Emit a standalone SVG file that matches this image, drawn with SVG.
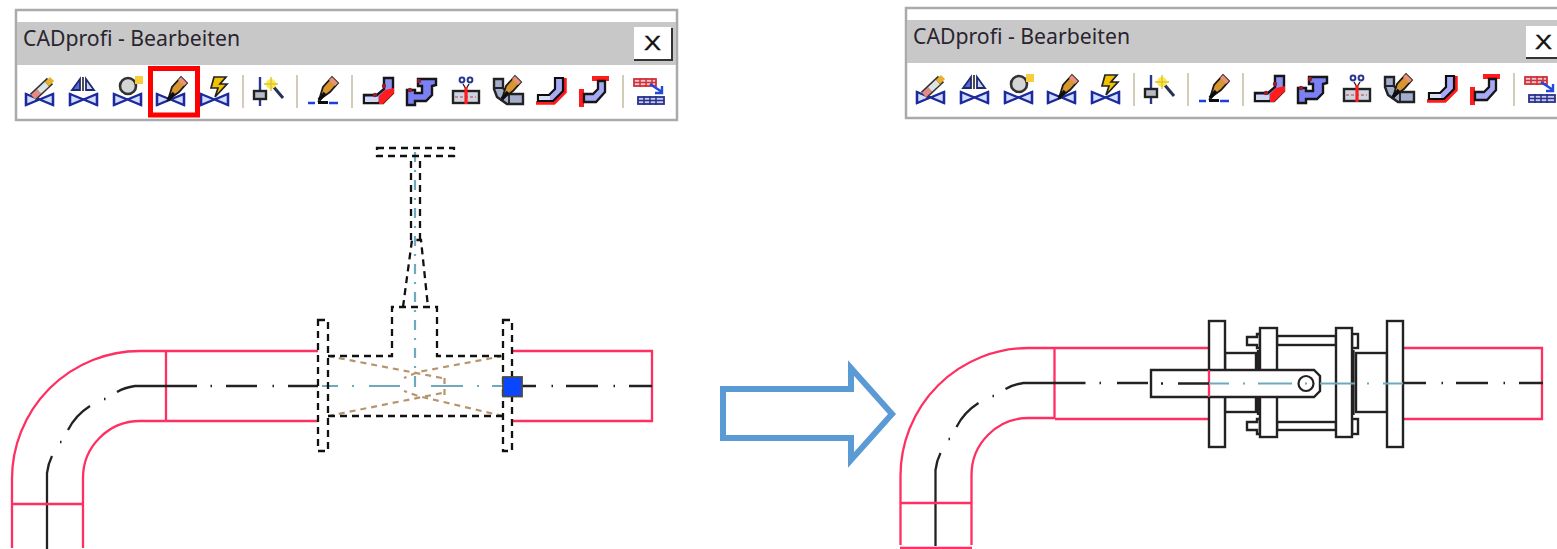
<svg xmlns="http://www.w3.org/2000/svg" width="1557" height="549" viewBox="0 0 1557 549">
<style>
.title{font-family:"Noto Sans","Liberation Sans",sans-serif;font-size:21px;fill:#2a2430}
.close{font-family:"Liberation Sans",Arial,sans-serif;font-size:21px;fill:#111;stroke:#111;stroke-width:.4}
.red{fill:none;stroke:#ff2f62;stroke-width:2.300}
.blk{fill:none;stroke:#222;stroke-width:2.300}
.part{fill:#fff;stroke:#222;stroke-width:2.400}
.dash{fill:none;stroke:#111;stroke-width:2.300;stroke-dasharray:7 5}
.teal{fill:none;stroke:#6fa9bd;stroke-width:2.200}
.brown{fill:none;stroke:#b8946c;stroke-width:2.200;stroke-dasharray:6 5}
.sep{stroke:#d2ccb8;stroke-width:2}
</style>
<defs>
<filter id="soft" x="-2%" y="-5%" width="104%" height="110%"><feGaussianBlur stdDeviation="0.4"/></filter>
<g id="bow"><polygon points="1,18 14.500,23.500 28,18 28,29 14.500,23.500 1,29" fill="#d3ddff" stroke="#1c2a9c" stroke-width="2.200"/>
<path d="M1 17V30M28 17V30" stroke="#1c2a9c" stroke-width="2.400"/></g>
<g id="pen">
<polygon points="-1,22 3,9 12,-1 18,5 10,14" fill="#d9952f" stroke="#1a1a1a" stroke-width="1.800"/>
<polygon points="9,2 12,-1 18,5 15,8" fill="#e8927a"/>
<line x1="-1" y1="22" x2="5" y2="15" stroke="#111" stroke-width="3.500"/>
</g>
<g id="i1"><use href="#bow"/>
<line x1="8" y1="21" x2="25" y2="5" stroke="#333" stroke-width="9"/>
<line x1="8" y1="21" x2="14" y2="15.400" stroke="#e58a86" stroke-width="6"/>
<line x1="14" y1="15.400" x2="22" y2="8" stroke="#dfe3e3" stroke-width="6"/>
<line x1="22" y1="8" x2="27" y2="3" stroke="#e9b22e" stroke-width="6"/></g>
<g id="i2"><use href="#bow"/>
<line x1="14" y1="1" x2="14" y2="15" stroke="#222" stroke-width="1.600"/>
<polygon points="11,3 11,14 3,14" fill="#5868d8" stroke="#1c2a70" stroke-width="1.800"/>
<polygon points="17,3 17,14 25,14" fill="#c7d3f5" stroke="#1c2a70" stroke-width="1.800"/></g>
<g id="i3"><use href="#bow"/>
<circle cx="15" cy="10" r="8" fill="#d4d6d6" stroke="#333" stroke-width="2.600"/>
<rect x="22" y="0" width="8" height="8" fill="#f8cc3c"/></g>
<g id="i4"><use href="#bow"/><use href="#pen" x="13" y="2"/></g>
<g id="i5"><use href="#bow"/><polygon points="14,1 26,1 20,8 27,8 15,21 18,12 11,12" fill="#f2c200" stroke="#222" stroke-width="1.700"/></g>
<g id="i6">
<line x1="7" y1="1" x2="7" y2="30" stroke="#2a3590" stroke-width="2.400"/>
<rect x="1" y="15" width="12" height="8" fill="#b8bcc4" stroke="#222" stroke-width="2.400"/>
<line x1="19" y1="9" x2="30" y2="22" stroke="#22305a" stroke-width="3"/>
<circle cx="18" cy="8" r="5" fill="#ffe94a"/>
<path d="M18 1V15M11 8H25" stroke="#d8c43a" stroke-width="1.400"/></g>
<g id="i7"><use href="#pen" x="12" y="2"/>
<path d="M0 27H7M21 27H30" stroke="#1c3ce0" stroke-width="2.400"/>
<line x1="10" y1="26.500" x2="20" y2="26.500" stroke="#111" stroke-width="3"/></g>
<g id="i8"><polygon points="1,18 14,18 21,12 21,1 30,1 30,16 20,26 1,26" fill="#8f92f5" stroke="#161616" stroke-width="2.400"/>
<rect x="2" y="20" width="13" height="5" fill="#d0d8f0"/>
<polygon points="16,27 20,27 31,16 31,11 22,13 16,19" fill="#ff1a1a"/>
<circle cx="12" cy="18" r="2.200" fill="#90202a"/><circle cx="21" cy="9" r="2.200" fill="#90202a"/></g>
<g id="i9"><polygon points="1,13 9,13 9,16 16,16 16,9 12,9 12,2 30,2 30,8 26,9 26,18 20,24 9,24 9,28 1,28" fill="#7c80f5" stroke="#161616" stroke-width="2.400"/>
<circle cx="13" cy="4" r="2.200" fill="#90202a"/><circle cx="4" cy="13" r="2.200" fill="#90202a"/></g>
<g id="i10"><circle cx="10" cy="3" r="2.400" fill="none" stroke="#2a3590" stroke-width="2"/><circle cx="18" cy="3" r="2.400" fill="none" stroke="#2a3590" stroke-width="2"/>
<path d="M11 7L14 12L17 7" fill="none" stroke="#222" stroke-width="1.400"/>
<rect x="1" y="14" width="26" height="12" fill="#cfd4e0" stroke="#222" stroke-width="2.400"/>
<line x1="14" y1="10" x2="14" y2="27" stroke="#ff1a1a" stroke-width="3.200"/>
<path d="M3 20H24" stroke="#b04040" stroke-width="1" stroke-dasharray="3 2"/></g>
<g id="i11"><polygon points="1,2 10,2 10,11 16,17 30,17 30,27 14,27 4,20 1,12" fill="#a2aecb" stroke="#222" stroke-width="2.400"/>
<path d="M1 11H10M16 17V27" stroke="#222" stroke-width="1.800"/>
<use href="#pen" x="10" y="0"/></g>
<g id="i12"><path d="M0 26H18L29 15V1" fill="none" stroke="#ff1a1a" stroke-width="3.500"/>
<polygon points="2,18 13,18 19,12 19,1 27,1 27,14 17,24 2,24" fill="#a7aaf5" stroke="#111" stroke-width="2.200"/>
<rect x="3" y="19" width="11" height="4" fill="#d8def4"/></g>
<g id="i13"><rect x="13" y="-1" width="17" height="5" fill="#ff1a1a"/><rect x="0" y="12" width="5" height="18" fill="#ff1a1a"/>
<polygon points="5,17 14,17 19,12 19,4 26,4 26,15 17,25 5,25" fill="#a7aaf5" stroke="#161616" stroke-width="2.300"/></g>
<g id="i14"><rect x="0" y="2" width="22" height="7" fill="#f0c8c8" stroke="#d0303a" stroke-width="1.800"/><path d="M0 5.500H22M6 1V10M12 1V10M18 1V10" stroke="#d0303a" stroke-width="1.500"/>
<rect x="4" y="20" width="26" height="7" fill="#c8ccec" stroke="#28308e" stroke-width="1.800"/><path d="M4 23.500H30M10 19V28M16 19V28M22 19V28" stroke="#28308e" stroke-width="1.500"/>
<path d="M16 7L28 15M28 9V16H21" fill="none" stroke="#2248d8" stroke-width="2.400"/></g>
<g id="iconRow" filter="url(#soft)">
<use href="#i1" x="25" y="76"/><use href="#i2" x="69" y="76"/><use href="#i3" x="113" y="76"/><use href="#i4" x="156" y="76"/><use href="#i5" x="200" y="76"/>
<line class="sep" x1="243" y1="75" x2="243" y2="108"/>
<use href="#i6" x="253" y="76"/>
<line class="sep" x1="297" y1="75" x2="297" y2="108"/>
<use href="#i7" x="308" y="76"/>
<line class="sep" x1="352" y1="75" x2="352" y2="108"/>
<use href="#i8" x="363" y="77"/><use href="#i9" x="406" y="77"/><use href="#i10" x="452" y="77"/><use href="#i11" x="493" y="77"/><use href="#i12" x="536" y="77"/><use href="#i13" x="579" y="77"/>
<line class="sep" x1="623" y1="75" x2="623" y2="108"/>
<use href="#i14" x="634" y="77"/>
</g>
<g id="elbow">
<path class="red" d="M166 351H140A128 128 0 0 0 12 479V548M166 421H140A57 57 0 0 0 83 478V548M166 350V422"/>
<path class="blk" d="M47 549V473C48 465 50 460 52 456M60 442h1.500M68 430C73 420 79 413 90 406M104 399h1.500M117 392C122 389 128 387 135 386H197"/>
</g>
</defs>

<g id="toolbar-left">
<rect x="16" y="10" width="661" height="110" fill="#fff" stroke="#aaa" stroke-width="2.500"/>
<rect x="17" y="22" width="659" height="43" fill="#c8c8c8"/>
<text class="title" x="23" y="46" textLength="217" lengthAdjust="spacingAndGlyphs">CADprofi - Bearbeiten</text>
<rect x="634" y="27" width="37" height="33" fill="#fff"/>
<path d="M634 60H672V28" fill="none" stroke="#333" stroke-width="2"/>
<text class="close" x="644" y="50" textLength="17" lengthAdjust="spacingAndGlyphs">X</text>
<use href="#iconRow"/>
<rect x="150.500" y="68.500" width="47" height="46.500" fill="none" stroke="#ff0000" stroke-width="5"/>
</g>

<g id="toolbar-right">
<rect x="906" y="8" width="661" height="110" fill="#fff" stroke="#aaa" stroke-width="2.500"/>
<rect x="907" y="20" width="659" height="43" fill="#c8c8c8"/>
<text class="title" x="913" y="44" textLength="217" lengthAdjust="spacingAndGlyphs">CADprofi - Bearbeiten</text>
<rect x="1526" y="26" width="37" height="32" fill="#fff"/>
<line x1="1526" y1="58" x2="1557" y2="58" stroke="#333" stroke-width="2"/>
<text class="close" x="1535" y="49" textLength="17" lengthAdjust="spacingAndGlyphs">X</text>
<use href="#iconRow" transform="translate(891,-2)"/>
</g>

<g id="piping-left">
<use href="#elbow"/>
<path class="red" d="M12 504H83M166 351H318M166 421H318M513 351H652V421H513"/>
<path class="blk" d="M226 386H257M288 386H318M272.500 386h1.500M210.500 386h1.500M522 386H536M551.500 386h1.500M566 386H598M613.500 386h1.500M629 386H652"/>
</g>

<g id="valve-left">
<path class="brown" d="M328 356L442 378M503 356L418 372L404 378M328 416L442 393M503 416L418 396L404 391M444.500 378V396"/>
<path class="teal" d="M322 386H338M352 386h2M369 386H400M414 386h2M431 386H463M477 386h2M492 386H503"/>
<path class="teal" stroke-dasharray="10 8 2 8" d="M415 386V150"/>
<path class="dash" d="M318 320H328V451H318ZM503 320H512V451H503ZM328 356H392V307H437V356H503M328 416H503M403 307L412 240H421L428 307M411 240V156M420 240V156M377 148H454V156H377Z"/>
<rect x="503" y="377" width="19" height="19.500" fill="#0a45ff" stroke="#4a4a4a" stroke-width="1.800"/>
</g>

<g id="piping-right">
<use href="#elbow" transform="translate(888.500,-3)"/>
<path class="red" d="M900 503H972M900 548H972M1055 348H1209M1055 419H1209M1403 348H1542V419H1403"/>
<path class="blk" d="M1117 383H1148M1099.500 383h1.500M1403 383H1426M1441.500 383h1.500M1456 383H1488M1503.500 383h1.500M1519 383H1543"/>
</g>

<g id="valve-right">
<rect class="part" x="1225" y="353" width="31" height="59"/>
<rect class="part" x="1356" y="353" width="31" height="59"/>
<line class="blk" x1="1258" y1="350" x2="1258" y2="415"/>
<line class="blk" x1="1353.500" y1="350" x2="1353.500" y2="415"/>
<rect class="part" x="1277" y="336" width="59" height="9"/>
<rect class="part" x="1277" y="422" width="59" height="8"/>
<path class="part" d="M1257 334H1260V348H1257V345H1247V337H1257ZM1257 419H1260V434H1257V430H1247V422H1257Z"/>
<rect class="part" x="1352" y="334" width="6" height="14"/>
<rect class="part" x="1352" y="419" width="6" height="15"/>
<rect class="part" x="1209" y="321" width="16" height="126"/>
<rect class="part" x="1387" y="321" width="16" height="126"/>
<rect class="part" x="1260" y="328" width="17" height="109"/>
<rect class="part" x="1336" y="328" width="16" height="109"/>
<path class="part" d="M1151 370H1314L1320 376V391L1314 397H1151Z"/>
<line class="red" x1="1209" y1="370" x2="1209" y2="397"/>
<circle cx="1306" cy="383.500" r="7.500" fill="#fff" stroke="#222" stroke-width="2.200"/>
<path class="blk" d="M1161 383.500h2M1178 383.500H1209"/>
<path class="teal" d="M1209 383.500H1229M1243 383.500h2M1258 383.500H1292M1305 383.500h2M1320 383.500H1355M1367 383.500h2M1383 383.500H1403"/>
</g>

<g id="connectors">
<polygon points="723,389 851,389 851,368 892,414 851,460 851,438 723,438" fill="#fff" stroke="#5b9bd5" stroke-width="6"/>
</g>
</svg>
